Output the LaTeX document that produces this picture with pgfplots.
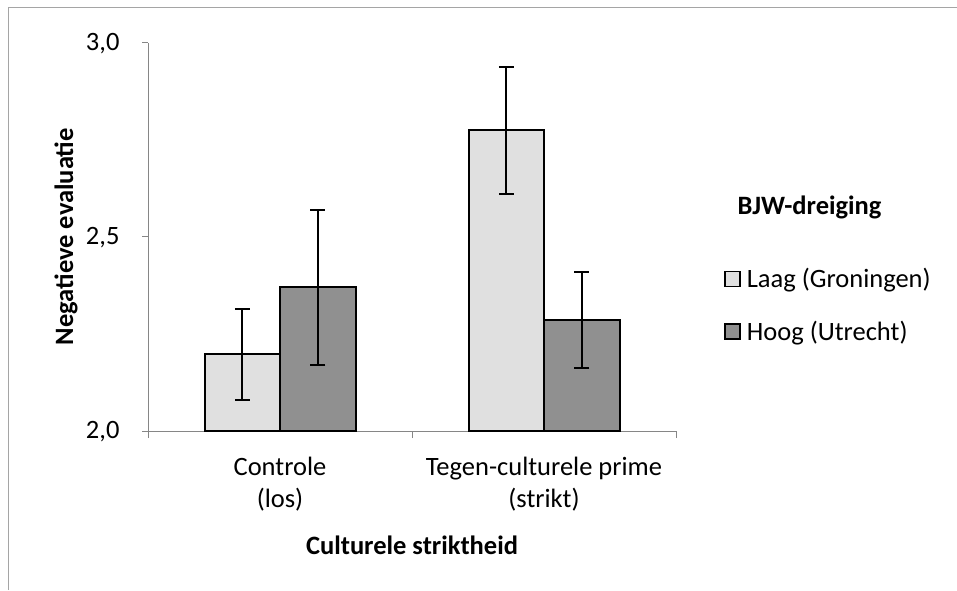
\documentclass[border=0pt]{standalone}
\usepackage{fontspec}
\setmainfont{Carlito}
\usepackage{pgfplots}
\pgfplotsset{compat=1.18}
\definecolor{lightbar}{RGB}{224,224,224}
\definecolor{darkbar}{RGB}{144,144,144}
\definecolor{axgray}{RGB}{134,134,134}
\definecolor{framegray}{RGB}{165,165,165}
\newcommand{\cf}{\fontsize{26.5}{32}\selectfont}
\begin{document}
\begin{tikzpicture}[x=1pt,y=1pt]
\path[use as bounding box] (0,0) rectangle (957,-590);
\draw[framegray, line width=1.5pt] (8.5,-590) -- (8.5,-7.5) -- (957,-7.5);
\begin{axis}[
  at={(148pt,-431pt)}, anchor=south west,
  scale only axis, width=528pt, height=388.5pt,
  xmin=-0.5, xmax=1.5, ymin=2, ymax=3,
  ybar=0pt, bar width=75.5pt,
  axis x line=bottom, axis y line=left,
  axis line style={axgray, line width=1pt, -},
  tick align=outside,
  xtick={0,1},
  xticklabels={{Controle\\(los)},{Tegen-culturele prime\\(strikt)}},
  xticklabel style={align=center, font=\cf, yshift=-17pt},
  major x tick style={draw=none},
  extra x ticks={-0.5,0.5,1.5}, extra x tick labels={},
  extra x tick style={major tick length=7pt, major x tick style={draw=axgray, line width=1pt}},
  ytick={2,2.5,3}, major tick length=6pt,
  y tick style={axgray, line width=1pt},
  yticklabel style={xshift=-19pt, yshift=-1pt, /pgf/number format/.cd, use comma, fixed, fixed zerofill, precision=1},
  /pgf/number format/assume math mode=true,
  ticklabel style={font=\cf},
  xlabel={\bfseries Culturele striktheid},
  ylabel={\bfseries Negatieve evaluatie},
  xlabel style={at={(axis description cs:0.5,-0.293)}, anchor=center, font=\cf},
  ylabel style={at={(axis description cs:-0.155,0.5)}, anchor=center, font=\cf},
  legend style={at={(axis description cs:1.0909,0.4247)}, anchor=north west, draw=none, fill=none,
    font=\cf, row sep=28pt, inner sep=0pt},
  legend cell align=left,
  error bars/y dir=both, error bars/y explicit,
  error bars/error bar style={line width=2pt, black},
  error bars/error mark options={rotate=90, mark size=7.5pt, line width=2pt, black},
]
\addplot[fill=lightbar, draw=black, line width=2pt,
  legend image code/.code={\draw[fill=lightbar, draw=black, line width=1.3pt] (0pt,-7.5pt) rectangle (15pt,7.5pt); \path (19pt,0pt);}]
  coordinates {(0,2.197) +- (0,0.118) (1,2.774) +- (0,0.163)};
\addplot[fill=darkbar, draw=black, line width=2pt,
  legend image code/.code={\draw[fill=darkbar, draw=black, line width=1.3pt] (0pt,-7.5pt) rectangle (15pt,7.5pt); \path (19pt,0pt);}]
  coordinates {(0,2.370) +- (0,0.199) (1,2.286) +- (0,0.124)};
\legend{Laag (Groningen), Hoog (Utrecht)}
\end{axis}
\node[font=\cf\bfseries] at (809.5,-207) {BJW-dreiging};
\end{tikzpicture}
\end{document}
